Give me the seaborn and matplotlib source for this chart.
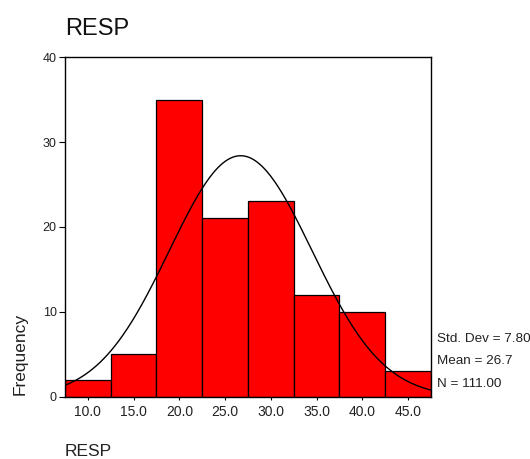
import numpy as np
import pandas as pd
import matplotlib
matplotlib.use("Agg")
import matplotlib.pyplot as plt
import seaborn as sns

# data
bin_centers = [10.0, 15.0, 20.0, 25.0, 30.0, 35.0, 40.0, 45.0]
frequencies = [2, 5, 35, 21, 23, 12, 10, 3]
bin_width = 5.0
std_dev = 7.80
mean_val = 26.7
n_total = 111.00
x_tick_labels = ["10.0", "15.0", "20.0", "25.0", "30.0", "35.0", "40.0", "45.0"]
y_ticks = [0, 10, 20, 30, 40]

sns.set_style("white")
plt.rcParams['font.family'] = ['Liberation Sans', 'DejaVu Sans']

fig = plt.figure(figsize=(5.30, 4.59), dpi=100)
ax = fig.add_axes([0.1226, 0.1351, 0.6906, 0.7407])

df = pd.DataFrame({"RESP": bin_centers, "count": frequencies})
edges = [c - bin_width / 2 for c in bin_centers] + [bin_centers[-1] + bin_width / 2]
sns.histplot(data=df, x="RESP", weights="count", bins=edges, ax=ax,
             color="#ff0000", edgecolor="black", linewidth=0.9, alpha=1.0)

# normal curve
xs = np.linspace(edges[0], edges[-1], 300)
ys = n_total * bin_width / (std_dev * np.sqrt(2 * np.pi)) * np.exp(-0.5 * ((xs - mean_val) / std_dev) ** 2)
sns.lineplot(x=xs, y=ys, ax=ax, color="black", linewidth=1.0)

ax.set_xlim(edges[0], edges[-1])
ax.set_ylim(0, 40)
ax.set_xticks(bin_centers)
ax.set_xticklabels(x_tick_labels, fontsize=10, color="#222222")
ax.set_yticks(y_ticks)
ax.set_yticklabels([str(t) for t in y_ticks], fontsize=9, color="#222222")
ax.tick_params(axis='y', direction='out', length=4.5, width=0.8, pad=1.5, left=True, color="black")
ax.tick_params(axis='x', direction='out', length=2.5, width=0.8, pad=3, bottom=True, color="black")
for s in ax.spines.values():
    s.set_visible(True)
    s.set_color("black")
    s.set_linewidth(1.0)
ax.set_xlabel("")
ax.set_ylabel("")

fig.text(0.1226, 0.9237, "RESP", fontsize=17, ha="left", va="baseline", color="#111111")
fig.text(0.038, 0.139, "Frequency", fontsize=12.5, rotation=90, ha="center", va="bottom", color="#222222")
fig.text(0.1226, 0.006, "RESP", fontsize=12.5, ha="left", va="baseline", color="#222222")
fig.text(0.8245, 0.2614, "Std. Dev = 7.80", fontsize=9.7, ha="left", va="center", color="#222222")
fig.text(0.8245, 0.2135, "Mean = 26.7", fontsize=9.7, ha="left", va="center", color="#222222")
fig.text(0.8245, 0.1634, "N = 111.00", fontsize=9.7, ha="left", va="center", color="#222222")

fig.savefig("out.png", dpi=100)
